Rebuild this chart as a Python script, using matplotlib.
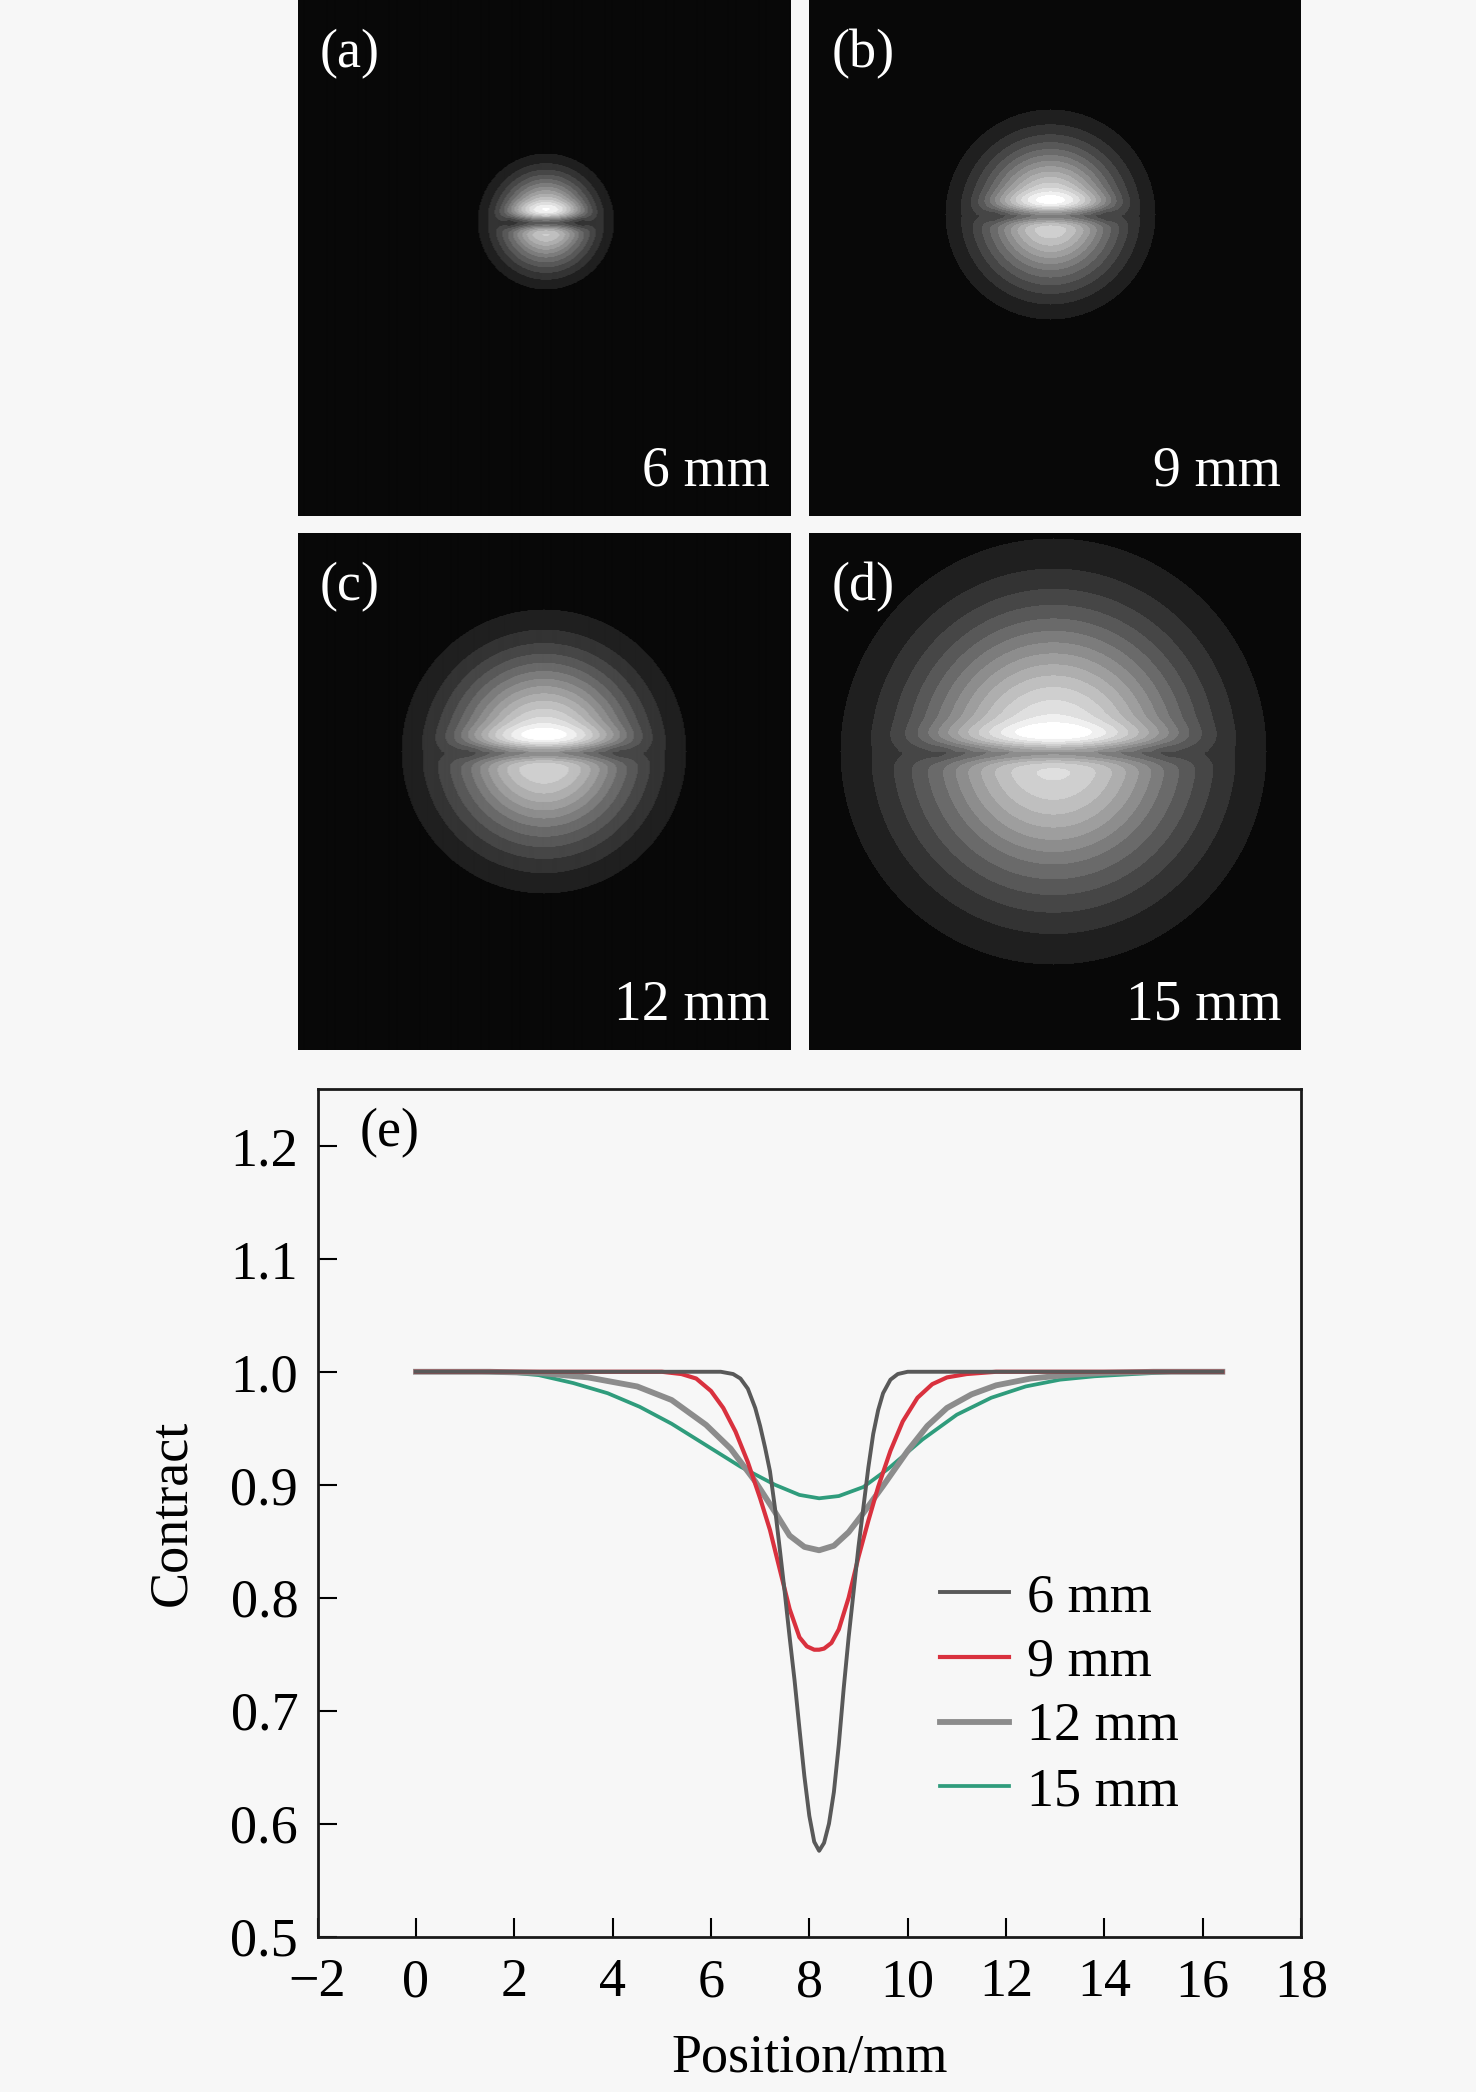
import numpy as np
import matplotlib
matplotlib.use("Agg")
import matplotlib.pyplot as plt

plt.rcParams['font.family'] = ['Liberation Serif', 'DejaVu Serif']
plt.rcParams['mathtext.fontset'] = 'stix'

# ---------------- data ----------------
panel_tags = ['(a)', '(b)', '(c)', '(d)']
panel_sizes = ['6 mm', '9 mm', '12 mm', '15 mm']
# visible beam radius (pixels in panel) and dark-line depth
beam_radius_px = [68, 105, 142, 213]
line_depth = [0.62, 0.48, 0.42, 0.38]
line_width_px = [7, 8, 9, 10]

series_labels = ['6 mm', '9 mm', '12 mm', '15 mm']
series_colors = ['#595959', '#d9313e', '#8c8c8c', '#2f9c7c']
series_widths = [2.8, 3.0, 4.2, 2.7]

x_6mm = [0.0, 2.0, 4.0, 5.5, 6.2, 6.45, 6.6, 6.75, 6.9, 7.0, 7.1, 7.2, 7.3, 7.4, 7.5,
         7.6, 7.7, 7.8, 7.9, 8.0, 8.1, 8.2, 8.3, 8.4, 8.5, 8.6, 8.7, 8.8, 8.9, 9.0,
         9.1, 9.2, 9.3, 9.4, 9.5, 9.65, 9.8, 10.0, 10.3, 12.0, 14.0, 16.4]
y_6mm = [1.0, 1.0, 1.0, 1.0, 1.0, 0.998, 0.994, 0.985, 0.968, 0.952, 0.933, 0.912, 0.880, 0.843, 0.805,
         0.765, 0.727, 0.684, 0.642, 0.607, 0.584, 0.576, 0.583, 0.600, 0.628, 0.670, 0.720, 0.765, 0.805, 0.845,
         0.880, 0.915, 0.945, 0.966, 0.981, 0.993, 0.998, 1.0, 1.0, 1.0, 1.0, 1.0]

x_9mm = [0.0, 2.0, 4.0, 5.0, 5.4, 5.7, 6.0, 6.25, 6.5, 6.75, 7.0, 7.2, 7.4, 7.6, 7.8,
         7.95, 8.1, 8.2, 8.3, 8.45, 8.6, 8.8, 9.0, 9.2, 9.4, 9.65, 9.9, 10.2, 10.5, 10.8,
         11.2, 11.8, 12.5, 14.0, 16.4]
y_9mm = [1.0, 1.0, 1.0, 1.0, 0.998, 0.994, 0.983, 0.968, 0.947, 0.920, 0.888, 0.860, 0.825, 0.790, 0.765,
         0.757, 0.754, 0.754, 0.755, 0.760, 0.772, 0.800, 0.836, 0.868, 0.898, 0.930, 0.956, 0.977, 0.989, 0.995,
         0.998, 1.0, 1.0, 1.0, 1.0]

x_12mm = [0.0, 1.5, 2.5, 3.5, 4.5, 5.2, 5.9, 6.4, 6.9, 7.3, 7.6, 7.9, 8.2, 8.5, 8.8,
          9.1, 9.5, 10.0, 10.4, 10.8, 11.3, 11.8, 12.5, 13.2, 14.0, 15.0, 16.4]
y_12mm = [1.0, 1.0, 0.999, 0.995, 0.987, 0.975, 0.953, 0.932, 0.903, 0.876, 0.855, 0.845, 0.842, 0.846, 0.858,
          0.875, 0.899, 0.930, 0.952, 0.968, 0.980, 0.988, 0.994, 0.997, 0.999, 1.0, 1.0]

x_15mm = [0.0, 1.0, 2.0, 2.5, 3.2, 3.9, 4.55, 5.2, 5.9, 6.6, 7.3, 7.8, 8.2, 8.6, 9.1,
          9.6, 10.3, 11.0, 11.7, 12.4, 13.1, 13.8, 14.6, 15.5, 16.4]
y_15mm = [1.0, 1.0, 0.999, 0.997, 0.990, 0.981, 0.969, 0.954, 0.935, 0.916, 0.900, 0.891, 0.888, 0.890, 0.898,
          0.914, 0.940, 0.962, 0.977, 0.987, 0.993, 0.996, 0.998, 1.0, 1.0]

series_x = [x_6mm, x_9mm, x_12mm, x_15mm]
series_y = [y_6mm, y_9mm, y_12mm, y_15mm]

x_ticks = [-2, 0, 2, 4, 6, 8, 10, 12, 14, 16, 18]
y_ticks = [0.5, 0.6, 0.7, 0.8, 0.9, 1.0, 1.1, 1.2]

# ---------------- figure ----------------
W, H = 1476, 2092
bg = '#f7f7f7'
fig = plt.figure(figsize=(W / 100, H / 100), dpi=100, facecolor=bg)

def fig_rect(left, top, right, bottom):
    return [left / W, 1 - bottom / H, (right - left) / W, (bottom - top) / H]

panel_boxes = [(297.6, 0, 790, 516), (809.3, 0, 1301, 516),
               (297.6, 533, 790, 1050), (809.3, 533, 1301, 1050)]
beam_centres = [(247, 221), (241, 214), (245, 218), (244, 218)]

N_LEVELS = 14
for i, (l, t, r, b) in enumerate(panel_boxes):
    ax = fig.add_axes(fig_rect(l, t, r, b))
    pw, ph = int(round(r - l)), int(round(b - t))
    yy, xx = np.mgrid[0:ph, 0:pw].astype(float)
    cx, cy = beam_centres[i]
    R = beam_radius_px[i]
    w = R * np.sqrt(2.0 / np.log(N_LEVELS))
    rr2 = (xx - cx) ** 2 + (yy - cy) ** 2
    g = np.exp(-2 * rr2 / w ** 2)
    core = np.clip((g - 0.12) / 0.35, 0, 1)
    s = line_width_px[i]
    band = np.exp(-((yy - cy - 1) / s) ** 2)
    glow = np.exp(-((yy - cy + 1.9 * s) / (1.1 * s)) ** 2)
    lower = np.where(yy > cy, 0.9, 1.0)
    inten = g * (1 - line_depth[i] * band * core) * (1 + 0.12 * glow * core) \
        * (1 - (1 - lower) * core)
    inten = np.clip(inten, 0, 1)
    q = np.floor(inten * N_LEVELS) / N_LEVELS
    img = 0.035 + 0.965 * q ** 0.9
    ax.imshow(img, cmap='gray', vmin=0, vmax=1, extent=(0, pw, ph, 0),
              interpolation='bilinear', aspect='auto')
    ax.set_xlim(0, pw)
    ax.set_ylim(ph, 0)
    ax.axis('off')
    ax.text(22, 54, panel_tags[i], color='white', fontsize=39, ha='left', va='center')
    ax.text(pw - 20, ph - 44, panel_sizes[i], color='white', fontsize=40, ha='right', va='center')

# ---------------- line chart ----------------
ax = fig.add_axes(fig_rect(317.6, 1089.3, 1301, 1936.7), facecolor=bg)
order = [3, 2, 1, 0]
handles = [None] * 4
for k in order:
    ln, = ax.plot(series_x[k], series_y[k], color=series_colors[k],
                  lw=series_widths[k], label=series_labels[k],
                  solid_joinstyle='round')
    handles[k] = ln

ax.set_xlim(-2, 18)
ax.set_ylim(0.5, 1.25)
ax.set_xticks(x_ticks)
ax.set_xticklabels([f'{v:d}'.replace('-', '\u2212') for v in x_ticks])
ax.set_yticks(y_ticks)
ax.set_yticklabels([f'{v:.1f}' for v in y_ticks])
ax.tick_params(axis='both', direction='in', length=14, width=1.5, labelsize=39,
               top=False, right=False)
ax.tick_params(axis='y', pad=14)
ax.tick_params(axis='x', pad=15)
for sp in ax.spines.values():
    sp.set_linewidth(2.0)
    sp.set_color('#1a1a1a')

ax.set_xlabel('Position/mm', fontsize=39, labelpad=18)
ax.set_ylabel('Contract', fontsize=39, labelpad=24)
ax.text(0.043, 0.949, '(e)', transform=ax.transAxes, fontsize=39, ha='left', va='center')

leg = ax.legend(handles=handles, labels=series_labels, loc='upper left',
                bbox_to_anchor=(0.611, 0.455), frameon=False, fontsize=39,
                handlelength=1.28, handletextpad=0.32, labelspacing=0.26,
                borderaxespad=0.0)

fig.savefig('out.png', dpi=100, facecolor=bg)
